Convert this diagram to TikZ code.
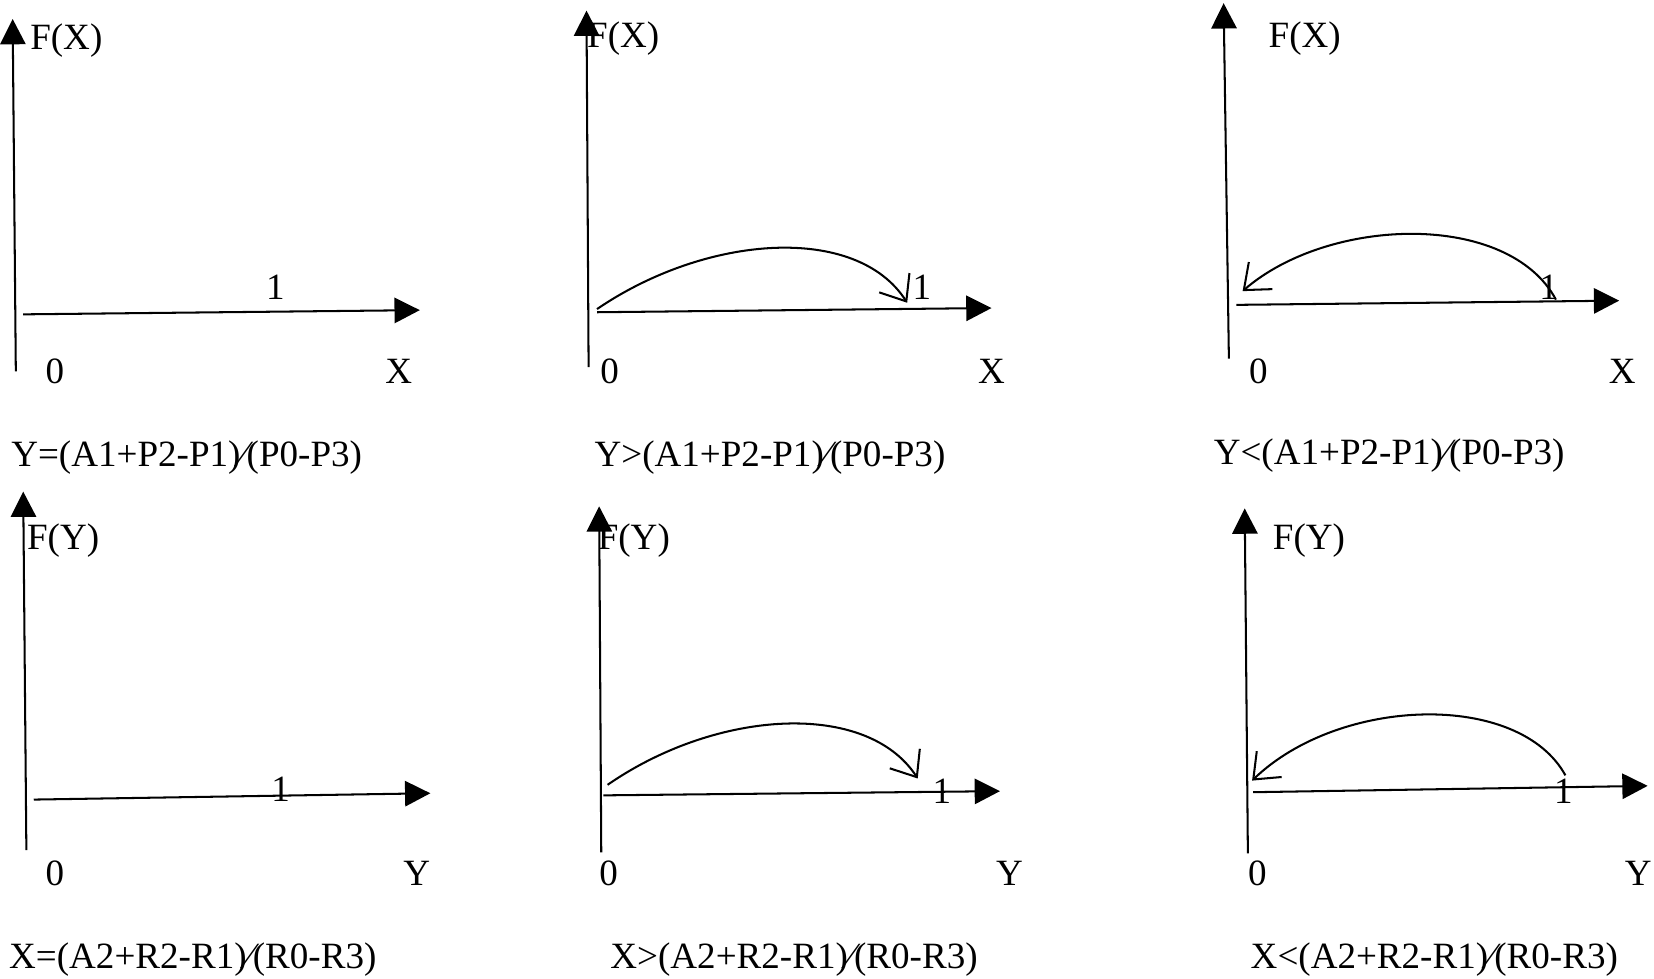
\documentclass[tikz,border=0pt]{standalone}
\usepackage{fontspec}
\setmainfont{Liberation Serif}
\usetikzlibrary{arrows.meta}
\tikzset{
  axisline/.style={line width=0.55pt, -{Triangle[length=2.4mm,width=2.4mm]}},
  arcarrow/.style={line width=0.55pt, -{Straight Barb[length=2.1mm,width=3.4mm,line width=0.55pt]}},
  lbl/.style={inner sep=0pt, font=\fontsize{10pt}{12pt}\selectfont},
  captxt/.style={lbl, anchor=west},
}
\begin{document}
\begin{tikzpicture}[x=0.1mm,y=-0.1mm]
\useasboundingbox[fill=white] (0,0) rectangle (1568,928);

% ---------- Panel 1 (top left)
\coordinate (a1v0) at (15,352); \coordinate (a1v1) at (12,18);
\coordinate (a1h0) at (22,298); \coordinate (a1h1) at (398,294);
\draw[axisline] (a1v0) -- (a1v1);
\draw[axisline] (a1h0) -- (a1h1);
\node[lbl, anchor=west] (a1f) at (28,38) {F(X)};
\node[lbl] (a1one) at (261,272) {1};
\node[lbl] (a1zero) at (52,352) {0};
\node[lbl] (a1x) at (378,352) {X};
\node[captxt] (a1c) at (10,434) {Y=(A1+P2-P1)⁄(P0-P3)};

% ---------- Panel 2 (top middle)
\coordinate (a2v0) at (558,348); \coordinate (a2v1) at (556,10);
\coordinate (a2h0) at (566,296); \coordinate (a2h1) at (940,292);
\draw[axisline] (a2v0) -- (a2v1);
\draw[axisline] (a2h0) -- (a2h1);
\coordinate (a2s) at (566,293); \coordinate (a2e) at (860,287);
\draw[arcarrow] (a2s) .. controls (670,222) and (812,212) .. (a2e);
\node[lbl, anchor=west] (a2f) at (556,37) {F(X)};
\node[lbl] (a2one) at (874,272) {1};
\node[lbl] (a2zero) at (578,352) {0};
\node[lbl] (a2x) at (940,352) {X};
\node[captxt] (a2c) at (563,434) {Y>(A1+P2-P1)⁄(P0-P3)};

% ---------- Panel 3 (top right)
\coordinate (a3v0) at (1165,340); \coordinate (a3v1) at (1160,3);
\coordinate (a3h0) at (1172,289); \coordinate (a3h1) at (1535,285);
\draw[axisline] (a3v0) -- (a3v1);
\draw[axisline] (a3h0) -- (a3h1);
\coordinate (a3s) at (1475,284); \coordinate (a3e) at (1178,276);
\draw[arcarrow] (a3s) .. controls (1430,200) and (1260,205) .. (a3e);
\node[lbl, anchor=west] (a3f) at (1202,37) {F(X)};
\node[lbl] (a3one) at (1468,272) {1};
\node[lbl] (a3zero) at (1193,352) {0};
\node[lbl] (a3x) at (1538,352) {X};
\node[captxt] (a3c) at (1150,432) {Y<(A1+P2-P1)⁄(P0-P3)};

% ---------- Panel 4 (bottom left)
\coordinate (b1v0) at (25,806); \coordinate (b1v1) at (22,466);
\coordinate (b1h0) at (32,758); \coordinate (b1h1) at (408,752);
\draw[axisline] (b1v0) -- (b1v1);
\draw[axisline] (b1h0) -- (b1h1);
\node[lbl, anchor=west] (b1f) at (25,512) {F(Y)};
\node[lbl] (b1one) at (266,748) {1};
\node[lbl] (b1zero) at (52,828) {0};
\node[lbl] (b1y) at (395,828) {Y};
\node[captxt] (b1c) at (8,910) {X=(A2+R2-R1)⁄(R0-R3)};

% ---------- Panel 5 (bottom middle)
\coordinate (b2v0) at (570,808); \coordinate (b2v1) at (568,480);
\coordinate (b2h0) at (572,754); \coordinate (b2h1) at (948,750);
\draw[axisline] (b2v0) -- (b2v1);
\draw[axisline] (b2h0) -- (b2h1);
\coordinate (b2s) at (576,744); \coordinate (b2e) at (870,738);
\draw[arcarrow] (b2s) .. controls (680,672) and (822,664) .. (b2e);
\node[lbl, anchor=west] (b2f) at (566,512) {F(Y)};
\node[lbl] (b2one) at (893,750) {1};
\node[lbl] (b2zero) at (577,828) {0};
\node[lbl] (b2y) at (957,828) {Y};
\node[captxt] (b2c) at (578,910) {X>(A2+R2-R1)⁄(R0-R3)};

% ---------- Panel 6 (bottom right)
\coordinate (b3v0) at (1183,809); \coordinate (b3v1) at (1180,482);
\coordinate (b3h0) at (1188,751); \coordinate (b3h1) at (1562,745);
\draw[axisline] (b3v0) -- (b3v1);
\draw[axisline] (b3h0) -- (b3h1);
\coordinate (b3s) at (1484,735); \coordinate (b3e) at (1187,740);
\draw[arcarrow] (b3s) .. controls (1440,655) and (1270,660) .. (b3e);
\node[lbl, anchor=west] (b3f) at (1206,512) {F(Y)};
\node[lbl] (b3one) at (1482,750) {1};
\node[lbl] (b3zero) at (1192,828) {0};
\node[lbl] (b3y) at (1553,828) {Y};
\node[captxt] (b3c) at (1185,910) {X<(A2+R2-R1)⁄(R0-R3)};
\end{tikzpicture}
\end{document}
